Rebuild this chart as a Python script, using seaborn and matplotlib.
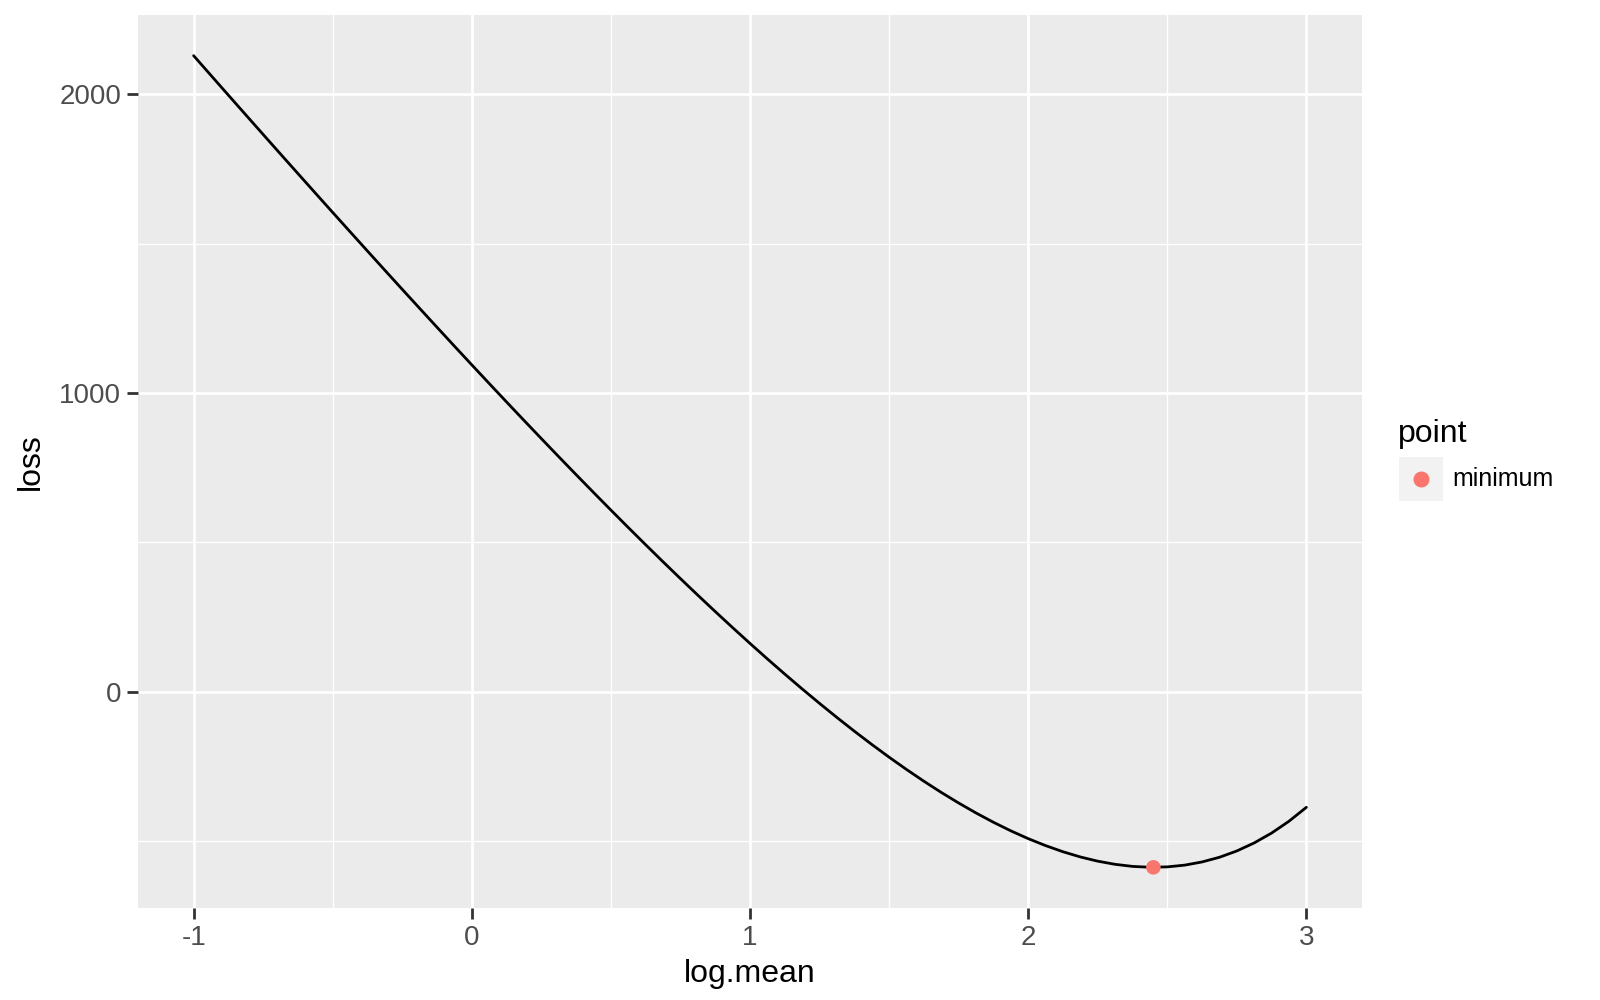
import numpy as np
import pandas as pd
import matplotlib
matplotlib.use("Agg")
import matplotlib.pyplot as plt
import seaborn as sns
from matplotlib.patches import Rectangle

# values
log_mean = [-1, -0.9375, -0.875, -0.8125, -0.75, -0.6875, -0.625, -0.5625,
            -0.5, -0.4375, -0.375, -0.3125, -0.25, -0.1875, -0.125, -0.0625,
            0, 0.0625, 0.125, 0.1875, 0.25, 0.3125, 0.375, 0.4375,
            0.5, 0.5625, 0.625, 0.6875, 0.75, 0.8125, 0.875, 0.9375,
            1, 1.0625, 1.125, 1.1875, 1.25, 1.3125, 1.375, 1.4375,
            1.5, 1.5625, 1.625, 1.6875, 1.75, 1.8125, 1.875, 1.9375,
            2, 2.0625, 2.125, 2.1875, 2.25, 2.3125, 2.375, 2.4375,
            2.5, 2.5625, 2.625, 2.6875, 2.75, 2.8125, 2.875, 2.9375, 3]
loss = [2129.8, 2063.6, 1997.5, 1931.6, 1865.9, 1800.3, 1735.0, 1669.8,
        1604.8, 1540.1, 1475.6, 1411.3, 1347.3, 1283.7, 1220.3, 1157.2,
        1094.5, 1032.2, 970.2, 908.7, 847.6, 787.0, 726.9, 667.3,
        608.3, 549.9, 492.2, 435.1, 378.8, 323.3, 268.6, 214.8,
        161.9, 110.0, 59.2, 9.5, -38.9, -86.1, -131.9, -176.2,
        -219.0, -260.1, -299.5, -337.0, -372.4, -405.8, -436.9, -465.6,
        -491.7, -515.1, -535.6, -553.1, -567.2, -577.8, -584.7, -587.6,
        -586.3, -580.5, -569.8, -554.2, -533.0, -506.1, -473.1, -433.5, -386.9]

min_x = [2.45]
min_y = [-587.8]
min_label = ["minimum"]

df = pd.DataFrame({"log.mean": log_mean, "loss": loss})
dmin = pd.DataFrame({"log.mean": min_x, "loss": min_y, "point": min_label})

sns.set_style("darkgrid", {"axes.facecolor": "#EBEBEB", "grid.color": "white"})
plt.rcParams["font.family"] = ["Liberation Sans", "DejaVu Sans"]
plt.rcParams["axes.unicode_minus"] = False

fig = plt.figure(figsize=(16, 10), dpi=100)
ax = fig.add_axes([0.08625, 0.092, 0.765, 0.893])

sns.lineplot(data=df, x="log.mean", y="loss", color="black", linewidth=2.0, ax=ax)
sns.scatterplot(data=dmin, x="log.mean", y="loss", color="#F8766D", s=110,
                edgecolor="none", ax=ax, legend=False, zorder=5)

ax.set_xlim(-1.2, 3.2)
ax.set_ylim(-724, 2266)
ax.set_xticks([-1, 0, 1, 2, 3])
ax.set_yticks([0, 1000, 2000])
ax.set_xticks([-0.5, 0.5, 1.5, 2.5], minor=True)
ax.set_yticks([-500, 500, 1500], minor=True)
ax.grid(which="major", color="white", linewidth=2.0)
ax.grid(which="minor", color="white", linewidth=1.0)
for s in ax.spines.values():
    s.set_visible(False)
ax.tick_params(which="major", bottom=True, left=True, length=8, width=2,
               color="#333333", labelsize=20, labelcolor="#4D4D4D", pad=4)
ax.tick_params(which="minor", length=0)
ax.set_xlabel("log.mean", fontsize=23, labelpad=6, color="black")
ax.set_ylabel("loss", fontsize=23, labelpad=10, color="black")

# legend
fig.text(0.874, 0.566, "point", fontsize=23, va="center", ha="left", color="black")
fig.patches.append(Rectangle((0.8745, 0.499), 0.0275, 0.044,
                             transform=fig.transFigure, facecolor="#F2F2F2",
                             edgecolor="none"))
fig.add_artist(plt.Line2D([0.888], [0.521], marker="o", markersize=10.5,
                          color="#F8766D", linestyle="none",
                          transform=fig.transFigure))
fig.text(0.9075, 0.521, "minimum", fontsize=18, va="center", ha="left", color="black")

fig.savefig("out.png", dpi=100)
